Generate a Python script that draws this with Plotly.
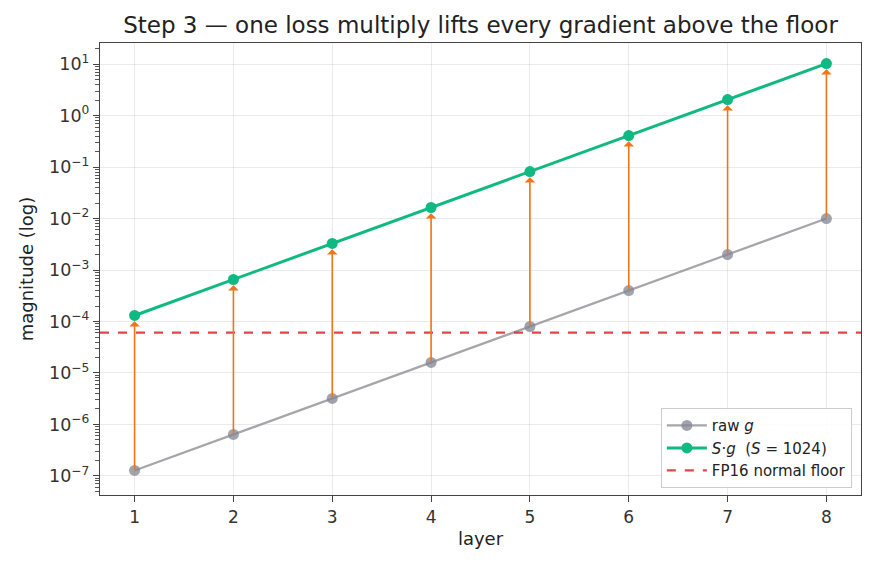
import plotly.graph_objects as go
import math

layers = [1, 2, 3, 4, 5, 6, 7, 8]
raw_g = [1.28e-7, 6.4e-7, 3.2e-6, 1.6e-5, 8.0e-5, 4.0e-4, 2.0e-3, 1.0e-2]
scaled_g = [1.31e-4, 6.55e-4, 3.28e-3, 1.64e-2, 8.19e-2, 4.10e-1, 2.05, 10.24]
fp16_floor = 6.1e-5
ytick_vals = [1e-7, 1e-6, 1e-5, 1e-4, 1e-3, 1e-2, 1e-1, 1e0, 1e1]
ytick_text = ["10<sup>−7</sup>", "10<sup>−6</sup>", "10<sup>−5</sup>", "10<sup>−4</sup>",
              "10<sup>−3</sup>", "10<sup>−2</sup>", "10<sup>−1</sup>", "10<sup>0</sup>", "10<sup>1</sup>"]

# minor tick positions (2..9 within each decade)
minor_vals = [m * 10.0 ** e for e in range(-8, 2) for m in range(2, 10)]

GREEN = "#10b981"
ORANGE = "#f07418"
RED = "rgba(220,38,38,0.85)"
FONT = "DejaVu Sans"

fig = go.Figure()

fig.add_trace(go.Scatter(
    x=layers, y=raw_g, mode="lines+markers", name="raw <i>g</i>",
    line=dict(color="rgba(150,150,155,0.85)", width=2.2),
    marker=dict(size=11, color="rgba(130,132,145,0.75)", line=dict(width=0)),
))
fig.add_trace(go.Scatter(
    x=layers, y=scaled_g, mode="lines+markers", name="<i>S</i>·<i>g</i>  (<i>S</i> = 1024)",
    line=dict(color=GREEN, width=3),
    marker=dict(size=11, color=GREEN),
))
fig.add_trace(go.Scatter(
    x=[0.65, 8.35], y=[fp16_floor, fp16_floor], mode="lines", name="FP16 normal floor",
    line=dict(color=RED, width=2.2, dash="dash"),
))

for x, g, s in zip(layers, raw_g, scaled_g):
    fig.add_annotation(
        x=x, y=math.log10(s) - 0.11, ax=x, ay=math.log10(g),
        xref="x", yref="y", axref="x", ayref="y",
        showarrow=True, arrowhead=1, arrowsize=1.1, arrowwidth=1.6,
        arrowcolor=ORANGE, text="",
    )

fig.update_layout(
    width=874, height=569,
    margin=dict(l=100, r=13, t=43, b=74),
    paper_bgcolor="white", plot_bgcolor="white",
    font=dict(family=FONT, size=17, color="#333"),
    title=dict(text="Step 3 — one loss multiply lifts every gradient above the floor",
               xref="paper", x=0.5, xanchor="center", y=0.957, yanchor="middle",
               font=dict(size=23, color="#222")),
    showlegend=True,
    legend=dict(x=0.988, y=0.015, xanchor="right", yanchor="bottom",
                bgcolor="rgba(255,255,255,0.9)", bordercolor="#ccc", borderwidth=1,
                font=dict(size=15, color="#222"), tracegroupgap=0, itemwidth=40),
)
fig.update_xaxes(
    range=[0.65, 8.35], tickvals=layers, ticks="outside", ticklen=6, tickcolor="#444",
    showline=True, linecolor="#444", linewidth=1.3, mirror=True,
    showgrid=True, gridcolor="rgba(0,0,0,0.08)", zeroline=False,
    title=dict(text="layer", font=dict(size=18, color="#222"), standoff=6),
    tickfont=dict(size=17, color="#333"),
)
fig.update_yaxes(
    type="log", range=[-7.37, 1.41], tickmode="array", tickvals=ytick_vals, ticktext=ytick_text,
    ticks="outside", ticklen=6, tickcolor="#444",
    minor=dict(tickmode="array", tickvals=minor_vals, ticks="outside", ticklen=3.5,
               tickcolor="#555", showgrid=False),
    showline=True, linecolor="#444", linewidth=1.3, mirror=True,
    showgrid=True, gridcolor="rgba(0,0,0,0.08)", zeroline=False,
    title=dict(text="magnitude (log)", font=dict(size=18, color="#222"), standoff=10),
    tickfont=dict(size=17.5, color="#333"),
)

fig.write_html("out.html")
